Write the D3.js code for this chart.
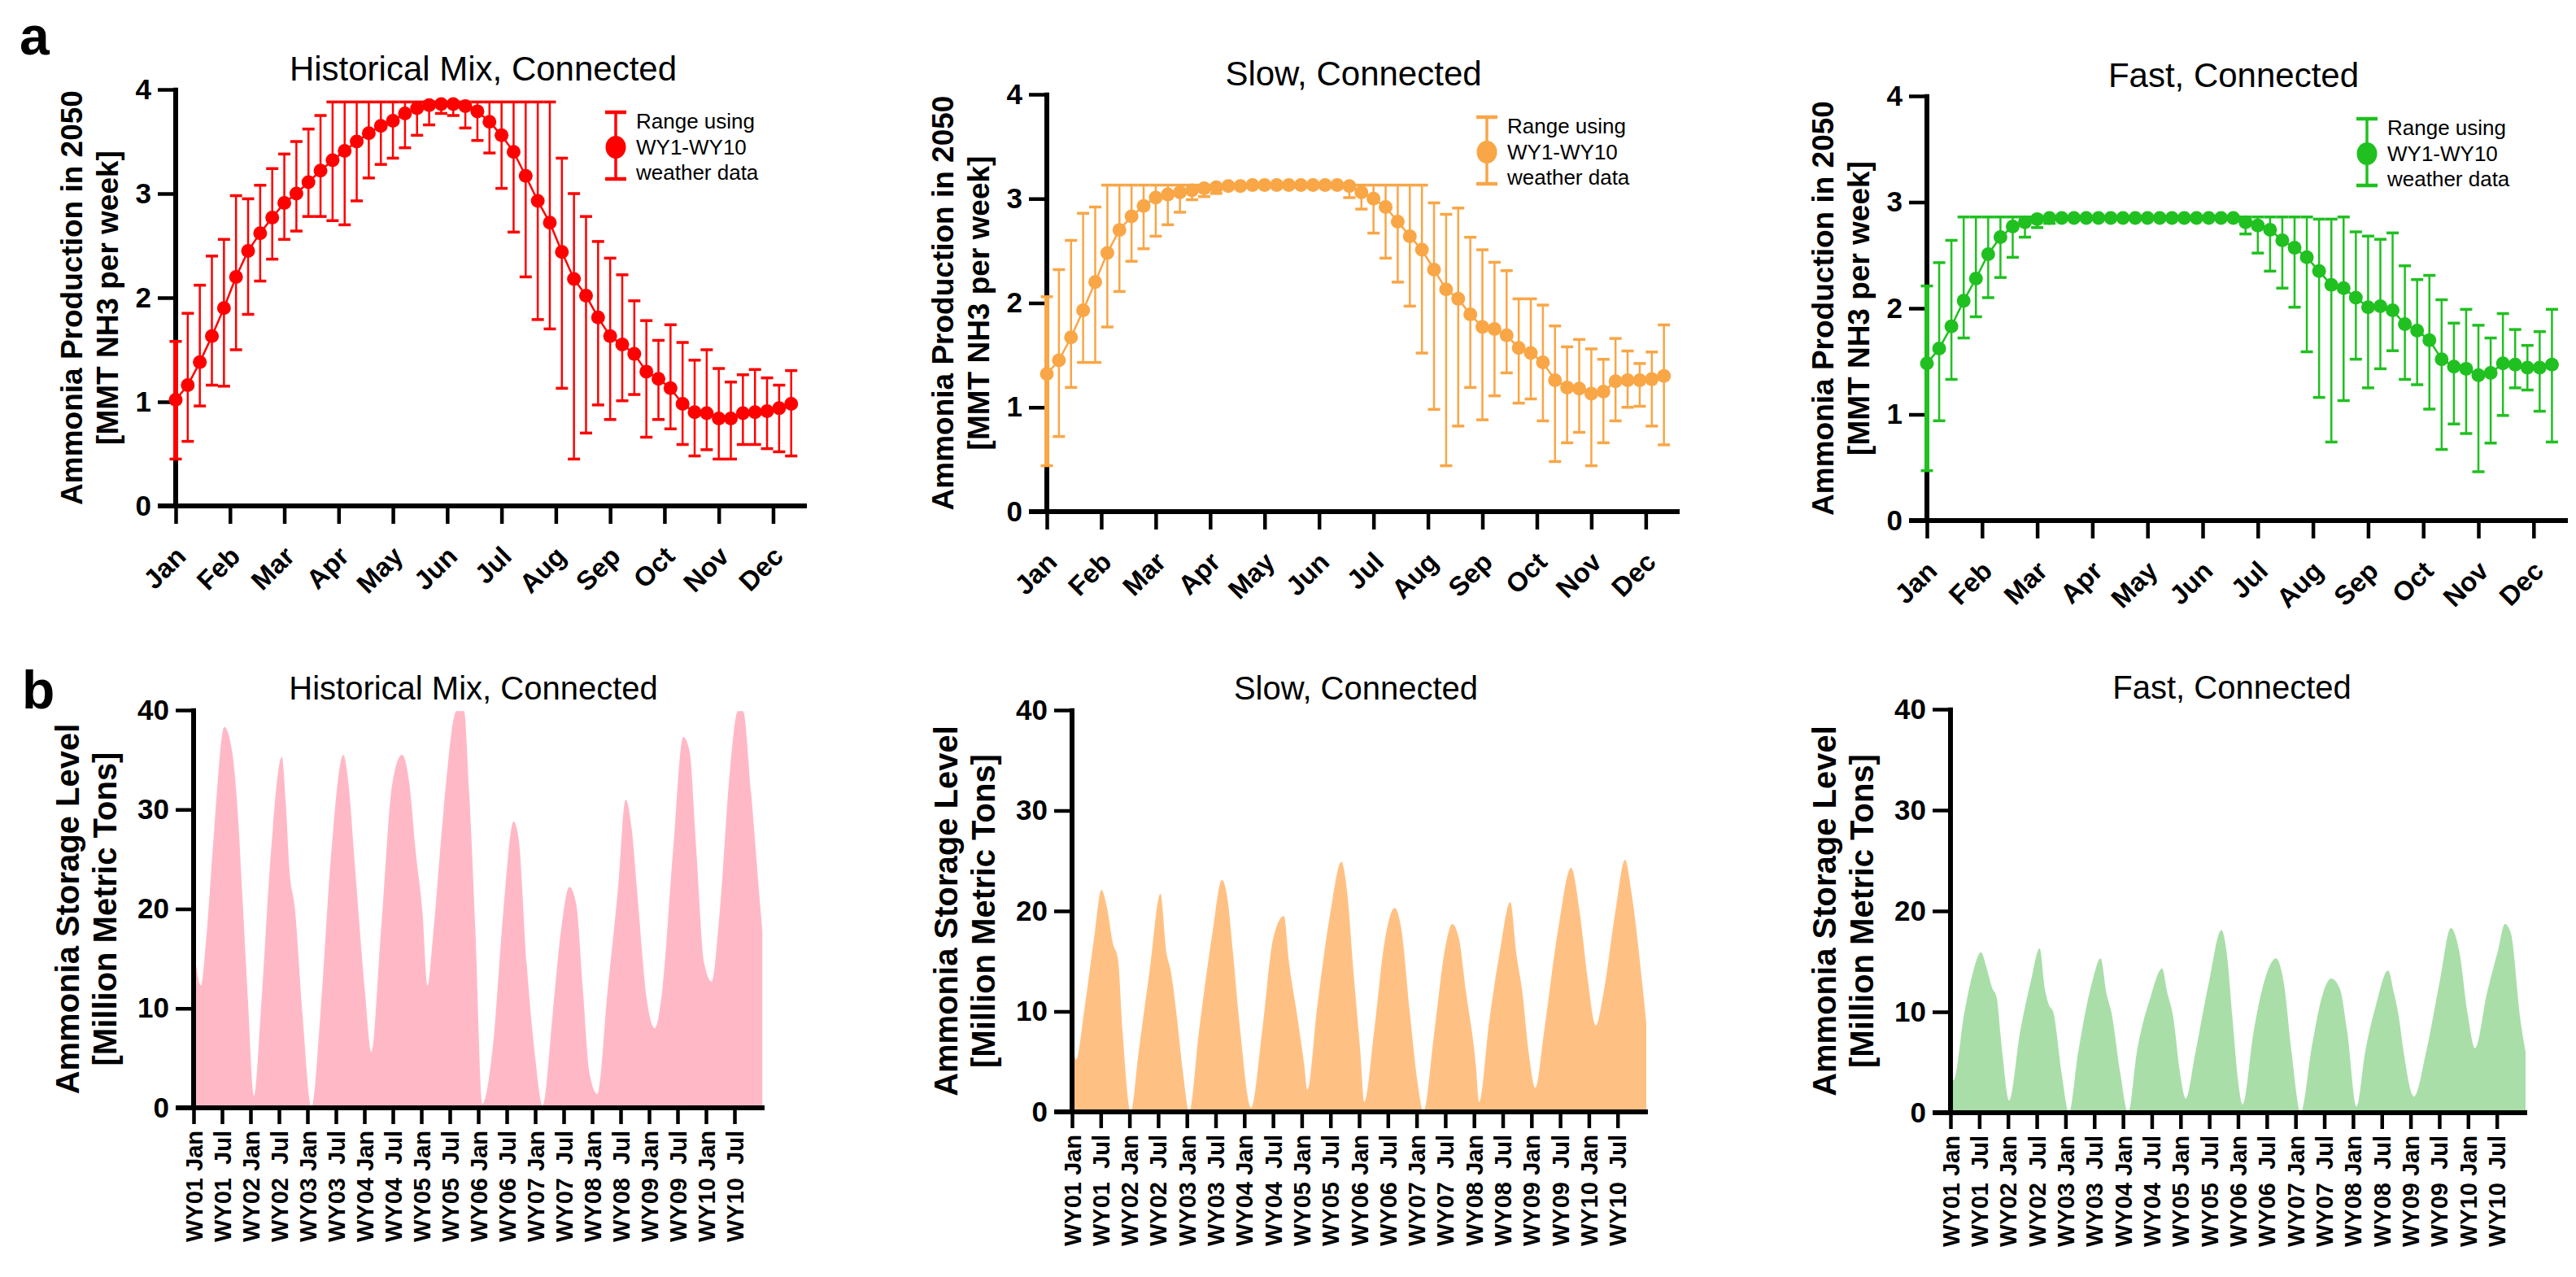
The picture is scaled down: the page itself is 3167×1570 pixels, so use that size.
<!DOCTYPE html>
<html><head><meta charset="utf-8">
<script src="https://cdn.jsdelivr.net/npm/d3@7"></script>
<style>
html,body{margin:0;padding:0;background:#fff;}
svg{display:block;font-family:"Liberation Sans",Arial,Helvetica,sans-serif;}
</style></head><body>
<svg id="chart" width="3167" height="1570"></svg>
<script>
// ---------- categories / tick labels ----------
const months = ["Jan","Feb","Mar","Apr","May","Jun","Jul","Aug","Sep","Oct","Nov","Dec"];
const monthTickWeeks = [0,4.5,9,13.5,18,22.5,27,31.5,36,40.5,45,49.5];
const wyTickLabels = ["WY01 Jan","WY01\u00A0\u00A0Jul","WY02 Jan","WY02\u00A0\u00A0Jul","WY03 Jan","WY03\u00A0\u00A0Jul","WY04 Jan","WY04\u00A0\u00A0Jul","WY05 Jan","WY05\u00A0\u00A0Jul","WY06 Jan","WY06\u00A0\u00A0Jul","WY07 Jan","WY07\u00A0\u00A0Jul","WY08 Jan","WY08\u00A0\u00A0Jul","WY09 Jan","WY09\u00A0\u00A0Jul","WY10 Jan","WY10\u00A0\u00A0Jul"];
const wyTickYears = [0,0.5,1,1.5,2,2.5,3,3.5,4,4.5,5,5.5,6,6.5,7,7.5,8,8.5,9,9.5];
const prodTicks = [0,1,2,3,4];
const storageTicks = [0,10,20,30,40];
const weekIndex = Array.from({length:52},(_,i)=>i);

// ---------- panel a: weekly production (mean, max, min) ----------
const histMean = [1.02,1.16,1.38,1.63,1.90,2.20,2.45,2.62,2.77,2.91,3.00,3.11,3.22,3.32,3.41,3.50,3.58,3.65,3.70,3.77,3.82,3.85,3.86,3.86,3.84,3.79,3.69,3.56,3.40,3.17,2.93,2.72,2.44,2.18,2.02,1.81,1.63,1.55,1.46,1.29,1.22,1.13,0.98,0.90,0.89,0.84,0.84,0.89,0.90,0.91,0.94,0.98];
const histHigh = [1.58,1.85,2.12,2.40,2.56,2.98,2.95,3.08,3.24,3.38,3.50,3.62,3.75,3.88,3.88,3.88,3.88,3.88,3.88,3.88,3.88,3.88,3.88,3.88,3.88,3.88,3.88,3.88,3.88,3.88,3.88,3.88,3.34,3.00,2.78,2.54,2.38,2.22,1.97,1.78,1.59,1.74,1.57,1.40,1.50,1.32,1.19,1.26,1.31,1.23,1.16,1.30];
const histLow = [0.45,0.62,0.96,1.16,1.15,1.50,1.84,2.16,2.37,2.56,2.64,2.78,2.78,2.74,2.70,2.93,3.15,3.28,3.34,3.44,3.56,3.66,3.77,3.75,3.63,3.51,3.39,3.05,2.63,2.20,1.79,1.70,1.13,0.45,0.70,0.97,0.83,1.01,1.07,0.66,0.83,0.74,0.59,0.48,0.54,0.45,0.45,0.59,0.59,0.55,0.52,0.48];

const slowMean = [1.32,1.45,1.67,1.93,2.20,2.48,2.70,2.83,2.93,3.01,3.04,3.06,3.08,3.10,3.11,3.12,3.12,3.13,3.13,3.13,3.13,3.13,3.13,3.13,3.13,3.12,3.06,3.00,2.92,2.78,2.64,2.51,2.32,2.13,2.04,1.89,1.77,1.75,1.69,1.57,1.52,1.43,1.26,1.19,1.18,1.13,1.15,1.25,1.26,1.26,1.27,1.30];
const slowHigh = [2.06,2.32,2.60,2.86,2.92,3.13,3.13,3.13,3.13,3.13,3.13,3.13,3.13,3.13,3.13,3.13,3.13,3.13,3.13,3.13,3.13,3.13,3.13,3.13,3.13,3.13,3.13,3.13,3.13,3.13,3.13,3.13,2.96,2.85,2.91,2.63,2.51,2.39,2.31,2.04,2.04,1.98,1.78,1.58,1.65,1.56,1.46,1.66,1.54,1.42,1.53,1.79];
const slowLow = [0.44,0.72,1.19,1.43,1.43,1.77,2.11,2.40,2.52,2.64,2.75,2.87,2.99,3.02,3.05,3.10,3.11,3.12,3.12,3.12,3.12,3.12,3.12,3.12,3.11,3.01,2.90,2.67,2.43,2.20,1.97,1.52,0.98,0.44,0.82,1.19,0.88,1.11,1.33,1.04,1.08,0.87,0.48,0.66,0.76,0.44,0.66,0.87,1.00,1.01,0.82,0.64];

const fastMean = [1.48,1.62,1.83,2.07,2.28,2.51,2.67,2.77,2.81,2.84,2.85,2.85,2.85,2.85,2.85,2.85,2.85,2.85,2.85,2.85,2.85,2.85,2.85,2.85,2.85,2.85,2.81,2.78,2.74,2.64,2.57,2.48,2.35,2.22,2.19,2.10,2.01,2.02,1.98,1.85,1.79,1.70,1.52,1.45,1.43,1.37,1.39,1.48,1.47,1.44,1.44,1.47];
const fastHigh = [2.21,2.43,2.64,2.86,2.86,2.86,2.86,2.86,2.86,2.86,2.86,2.86,2.86,2.86,2.86,2.86,2.86,2.86,2.86,2.86,2.86,2.86,2.86,2.86,2.86,2.86,2.86,2.86,2.86,2.86,2.86,2.86,2.84,2.84,2.86,2.72,2.68,2.65,2.71,2.40,2.27,2.31,2.08,1.86,1.99,1.84,1.72,1.95,1.80,1.65,1.78,1.99];
const fastLow = [0.47,0.94,1.33,1.72,1.92,2.10,2.29,2.48,2.67,2.76,2.80,2.85,2.85,2.85,2.85,2.85,2.85,2.85,2.85,2.85,2.85,2.85,2.85,2.85,2.85,2.85,2.70,2.52,2.35,2.19,2.01,1.59,1.16,0.74,1.13,1.52,1.25,1.43,1.60,1.33,1.28,1.05,0.67,0.91,0.82,0.46,0.73,0.99,1.25,1.23,1.03,0.74];

// ---------- panel b: storage level (time in years since WY01 Jan, value) ----------
const histTime = [0,0.13,0.22,0.36,0.54,0.68,0.77,0.86,0.95,1.06,1.18,1.36,1.55,1.62,1.68,1.78,1.91,2.07,2.23,2.42,2.63,2.72,2.83,3.01,3.12,3.29,3.49,3.66,3.79,3.90,4.02,4.11,4.20,4.39,4.62,4.75,4.84,4.95,5.07,5.26,5.44,5.62,5.71,5.85,5.99,6.13,6.31,6.45,6.60,6.72,6.84,6.95,7.09,7.27,7.45,7.59,7.70,7.79,7.96,8.10,8.23,8.42,8.60,8.71,8.83,8.97,9.10,9.24,9.42,9.56,9.65,9.79,9.93,9.99];
const histStorage = [16.3,12.3,16.9,27.8,38.3,35.7,30.2,21.0,11.3,1.2,9.6,25.8,35.3,30.6,24.2,20.0,9.6,0.0,9.6,25.8,35.5,32.6,24.6,11.7,5.6,17.7,32.6,35.5,32.6,25.8,19.7,12.3,16.9,29.8,39.9,39.9,31.8,17.7,0.4,6.4,19.7,28.8,27.0,14.5,5.6,0.2,9.6,17.7,22.2,20.5,11.7,3.6,1.4,11.7,21.8,31.0,27.8,21.8,10.9,8.0,11.7,25.8,37.3,35.9,25.8,14.5,12.7,19.7,33.9,39.9,39.9,31.8,21.8,17.7];
const slowTime = [0,0.07,0.21,0.40,0.51,0.61,0.71,0.80,0.88,1.02,1.16,1.35,1.54,1.64,1.72,1.83,1.93,2.04,2.21,2.45,2.61,2.71,2.80,2.93,3.12,3.31,3.50,3.69,3.78,3.91,4.04,4.10,4.26,4.50,4.69,4.79,4.90,5.02,5.09,5.26,5.45,5.62,5.74,5.88,6.02,6.12,6.31,6.50,6.62,6.74,6.86,7.03,7.09,7.26,7.45,7.63,7.74,7.84,7.95,8.07,8.22,8.46,8.69,8.84,8.98,9.12,9.26,9.46,9.63,9.74,9.93,10.0];
const slowStorage = [7.2,5.2,10.0,18.0,22.1,20.3,16.8,15.2,8.0,0.0,6.0,14.0,21.7,16.0,14.0,9.2,4.0,0.0,8.0,18.0,23.1,21.1,16.0,8.0,0.4,8.0,17.2,19.5,14.8,10.0,4.8,2.2,10.0,19.9,24.9,21.9,14.0,6.0,1.0,8.0,17.2,20.3,18.0,10.0,2.8,0.0,8.0,16.4,18.7,17.2,12.0,4.8,1.0,8.8,16.0,20.9,15.6,12.0,6.0,2.4,8.0,18.0,24.3,19.9,13.2,8.6,12.0,19.9,25.1,21.9,12.8,8.8];
const fastTime = [0,0.05,0.24,0.39,0.53,0.63,0.73,0.80,0.90,1.02,1.21,1.40,1.55,1.64,1.71,1.79,1.93,2.06,2.22,2.47,2.61,2.71,2.80,2.95,3.09,3.24,3.48,3.68,3.77,3.87,3.99,4.09,4.26,4.50,4.71,4.81,4.90,5.00,5.08,5.27,5.46,5.66,5.80,5.93,6.09,6.29,6.48,6.62,6.77,6.90,7.06,7.21,7.40,7.61,7.71,7.79,7.88,8.06,8.27,8.51,8.70,8.85,8.99,9.12,9.33,9.53,9.64,9.74,9.91,10.0];
const fastStorage = [4.8,3.2,9.9,13.9,15.9,14.3,12.3,11.5,6.0,1.2,8.0,13.1,16.3,12.3,10.7,9.9,4.0,0.0,6.0,13.1,15.3,11.9,9.9,4.0,0.0,6.0,11.5,14.3,11.9,9.6,4.0,1.4,6.0,13.1,18.1,15.5,9.6,3.2,0.8,8.0,13.1,15.3,12.7,6.0,0.0,6.8,11.9,13.3,12.3,8.0,0.6,6.0,10.7,14.1,11.9,9.7,6.0,1.6,6.0,13.1,18.3,15.9,9.9,6.4,11.9,16.3,18.7,17.9,9.2,6.0];

const scenarioTitles = ["Historical Mix, Connected","Slow, Connected","Fast, Connected"];
const legendLines = ["Range using","WY1-WY10","weather data"];

// ---------- layout ----------
const svg = d3.select("#chart");
svg.append("rect").attr("width",3167).attr("height",1570).attr("fill","#fff");

const topPanels = [
  {mean:histMean, hi:histHigh, lo:histLow, color:"#FF0000", x0:216, x1:992, yT:110, yB:622, tx:594},
  {mean:slowMean, hi:slowHigh, lo:slowLow, color:"#F9A646", x0:1287, x1:2065, yT:116, yB:629, tx:1664},
  {mean:fastMean, hi:fastHigh, lo:fastLow, color:"#20C020", x0:2369, x1:3157, yT:118, yB:640, tx:2746}
];
const botPanels = [
  {t:histTime, v:histStorage, color:"#FFB9C6", x0:238, x1:938, yT:873, yB:1362, tx:582},
  {t:slowTime, v:slowStorage, color:"#FFC183", x0:1318, x1:2024, yT:873, yB:1367, tx:1667},
  {t:fastTime, v:fastStorage, color:"#A9DEA9", x0:2398, x1:3105, yT:872, yB:1368, tx:2744}
];

function styleYAxis(gy){
  gy.select(".domain").remove();
  gy.selectAll(".tick line").attr("stroke","#000").attr("stroke-width",4.5);
  gy.selectAll(".tick text").attr("font-size",35).attr("font-weight","bold").attr("fill","#000")
    .attr("font-family",'"Liberation Sans",Arial,sans-serif');
}

topPanels.forEach((p,k)=>{
  const g = svg.append("g");
  const xs = d3.scaleLinear().domain([0,52.3]).range([p.x0,p.x1]);
  const ys = d3.scaleLinear().domain([0,4]).range([p.yB,p.yT]);

  const gy = g.append("g").attr("transform",`translate(${p.x0},0)`)
    .call(d3.axisLeft(ys).tickValues(prodTicks).tickSize(22).tickPadding(8).tickFormat(d3.format("d")));
  styleYAxis(gy);

  const gx = g.append("g").attr("transform",`translate(0,${p.yB})`)
    .call(d3.axisBottom(xs).tickValues(monthTickWeeks).tickSize(22).tickFormat((d,i)=>months[i]));
  gx.select(".domain").remove();
  gx.selectAll(".tick line").attr("stroke","#000").attr("stroke-width",4.5);
  gx.selectAll(".tick text").attr("font-size",33).attr("font-weight","bold").attr("fill","#000")
    .attr("font-family",'"Liberation Sans",Arial,sans-serif')
    .attr("text-anchor","end").attr("x",0).attr("y",0).attr("dy",0)
    .attr("transform","translate(14,64) rotate(-45)");

  g.append("line").attr("x1",p.x0).attr("x2",p.x0).attr("y1",p.yT-2.25).attr("y2",p.yB)
    .attr("stroke","#000").attr("stroke-width",6);
  g.append("line").attr("x1",p.x0-22).attr("x2",p.x1).attr("y1",p.yB).attr("y2",p.yB)
    .attr("stroke","#000").attr("stroke-width",6);

  // title
  g.append("text").attr("x",p.tx).attr("y",p.yT-11).attr("text-anchor","middle")
    .attr("font-size",42).attr("fill","#000").text(scenarioTitles[k]);

  // y-axis title
  const yc = (p.yT+p.yB)/2;
  g.append("text").attr("transform",`translate(${p.x0-115},${yc}) rotate(-90)`)
    .attr("text-anchor","middle").attr("font-size",37).attr("font-weight","bold").text("Ammonia Production in 2050");
  g.append("text").attr("transform",`translate(${p.x0-71},${yc}) rotate(-90)`)
    .attr("text-anchor","middle").attr("font-size",37).attr("font-weight","bold").text("[MMT NH3 per week]");

  // error bars
  const eb = g.append("g").attr("stroke",p.color);
  weekIndex.forEach(i=>{
    const x = xs(i);
    eb.append("line").attr("x1",x).attr("x2",x).attr("y1",ys(p.hi[i])).attr("y2",ys(p.lo[i])).attr("stroke-width",i===0?6:2.5);
    eb.append("line").attr("x1",x-7.5).attr("x2",x+7.5).attr("y1",ys(p.hi[i])).attr("y2",ys(p.hi[i])).attr("stroke-width",3.5);
    eb.append("line").attr("x1",x-7.5).attr("x2",x+7.5).attr("y1",ys(p.lo[i])).attr("y2",ys(p.lo[i])).attr("stroke-width",3.5);
  });
  // mean line + dots
  g.append("path").datum(weekIndex).attr("fill","none").attr("stroke",p.color).attr("stroke-width",2.5)
    .attr("d",d3.line().x(i=>xs(i)).y(i=>ys(p.mean[i])));
  g.selectAll(null).data(weekIndex).enter().append("circle")
    .attr("cx",i=>xs(i)).attr("cy",i=>ys(p.mean[i])).attr("r",8.5).attr("fill",p.color);

  // legend
  const lx = p.x0+541, ly = p.yT+28;
  const lg = g.append("g").attr("stroke",p.color);
  lg.append("line").attr("x1",lx).attr("x2",lx).attr("y1",ly).attr("y2",ly+82).attr("stroke-width",3.5);
  lg.append("line").attr("x1",lx-13).attr("x2",lx+13).attr("y1",ly).attr("y2",ly).attr("stroke-width",4.5);
  lg.append("line").attr("x1",lx-13).attr("x2",lx+13).attr("y1",ly+82).attr("y2",ly+82).attr("stroke-width",4.5);
  g.append("ellipse").attr("cx",lx).attr("cy",ly+43).attr("rx",12.5).attr("ry",14).attr("fill",p.color);
  legendLines.forEach((s,j)=>{
    g.append("text").attr("x",lx+25).attr("y",ly+20+j*31.5).attr("font-size",26).attr("fill","#000").text(s);
  });
});

botPanels.forEach((p,k)=>{
  const g = svg.append("g");
  const xs = d3.scaleLinear().domain([0,10]).range([p.x0,p.x1]);
  const ys = d3.scaleLinear().domain([0,40]).range([p.yB,p.yT]);

  // area
  const idx = p.t.map((_,i)=>i);
  g.append("path").datum(idx).attr("fill",p.color)
    .attr("d",d3.area().x(i=>xs(p.t[i])).y0(p.yB).y1(i=>ys(p.v[i])).curve(d3.curveMonotoneX));

  const gy = g.append("g").attr("transform",`translate(${p.x0},0)`)
    .call(d3.axisLeft(ys).tickValues(storageTicks).tickSize(22).tickPadding(8).tickFormat(d3.format("d")));
  styleYAxis(gy);

  const gx = g.append("g").attr("transform",`translate(0,${p.yB})`)
    .call(d3.axisBottom(xs).tickValues(wyTickYears).tickSize(20).tickFormat((d,i)=>wyTickLabels[i]));
  gx.select(".domain").remove();
  gx.selectAll(".tick line").attr("stroke","#000").attr("stroke-width",4.5);
  gx.selectAll(".tick text").attr("font-size",29).attr("font-weight","bold").attr("fill","#000")
    .attr("font-family",'"Liberation Sans",Arial,sans-serif')
    .attr("text-anchor","end").attr("x",0).attr("y",0).attr("dy",0)
    .attr("transform","translate(10,28) rotate(-90)");

  g.append("line").attr("x1",p.x0).attr("x2",p.x0).attr("y1",p.yT-2.25).attr("y2",p.yB)
    .attr("stroke","#000").attr("stroke-width",6);
  g.append("line").attr("x1",p.x0-22).attr("x2",p.x1+2).attr("y1",p.yB).attr("y2",p.yB)
    .attr("stroke","#000").attr("stroke-width",6);

  g.append("text").attr("x",p.tx).attr("y",p.yT-13).attr("text-anchor","middle")
    .attr("font-size",40).attr("fill","#000").text(scenarioTitles[k]);

  const yc = (p.yT+p.yB)/2;
  g.append("text").attr("transform",`translate(${p.x0-141},${yc}) rotate(-90)`)
    .attr("text-anchor","middle").attr("font-size",40).attr("font-weight","bold").text("Ammonia Storage Level");
  g.append("text").attr("transform",`translate(${p.x0-95},${yc}) rotate(-90)`)
    .attr("text-anchor","middle").attr("font-size",40).attr("font-weight","bold").text("[Million Metric Tons]");
});

// panel letters
svg.append("text").attr("x",24).attr("y",67).attr("font-size",66).attr("font-weight","bold").text("a");
svg.append("text").attr("x",27).attr("y",871).attr("font-size",66).attr("font-weight","bold").text("b");
</script>
</body></html>
